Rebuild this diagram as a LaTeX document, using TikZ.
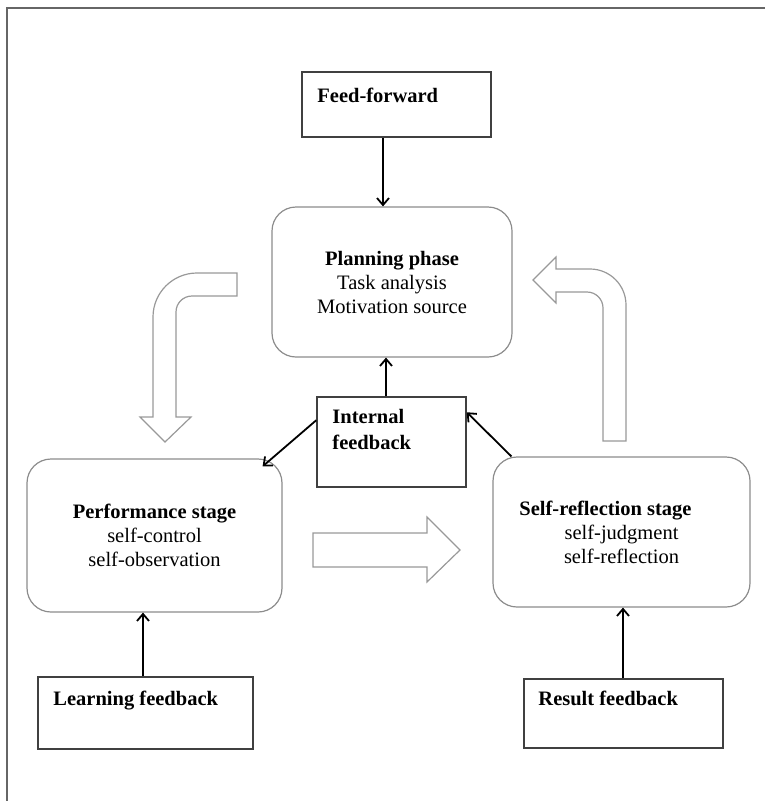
\documentclass[tikz,border=0pt]{standalone}
\usepackage{fontspec}
\setmainfont{Liberation Serif}
\usetikzlibrary{arrows.meta, positioning}
\tikzstyle{phase} = [rectangle, rounded corners=24pt, draw=black!45, line width=1.2pt, align=center, inner sep=0pt]
\tikzstyle{fbbox} = [rectangle, draw=black!75, line width=1.5pt, inner sep=0pt]
\tikzstyle{fbtext} = [anchor=base west, align=left, inner sep=0pt, font=\fontsize{20.5}{26}\selectfont\bfseries]
\tikzstyle{arrow} = [line width=1.8pt, ->, >={Straight Barb[length=7pt,width=12pt]}]
\tikzstyle{hollow} = [draw=black!40, line width=1.2pt, fill=white]

\begin{document}
\begin{tikzpicture}[x=1pt, y=-1pt, font=\fontsize{20.5}{24}\selectfont]
  \useasboundingbox (0,0) rectangle (765,801);
  \draw [black!60, line width=2.5pt] (7,801) -- (7,8) -- (765,8);
  % phases
  \node (plan) [phase, minimum width=240pt, minimum height=150pt] at (392,282) {\textbf{Planning phase}\\Task analysis\\Motivation source};
  \node (perf) [phase, minimum width=255pt, minimum height=153pt] at (154.5,535.5) {\textbf{Performance stage}\\self-control\\self-observation};
  \node (selfref) [phase, minimum width=257pt, minimum height=150pt] at (621.5,532) {\textbf{Self-reflection stage}\hspace*{32pt}\\self-judgment\\self-reflection};
  % feedback boxes
  \node (ff) [fbbox, minimum width=189pt, minimum height=65pt] at (396.5,104.5) {};
  \node (fftext) [fbtext] at ([xshift=16pt, yshift=-31pt]ff.north west) {Feed-forward};
  \node (intfb) [fbbox, minimum width=149pt, minimum height=90pt] at (391.5,442) {};
  \node (intfbtext) [fbtext, anchor=north west] at ([xshift=16pt, yshift=-13pt]intfb.north west) {Internal\\feedback};
  \node (learnfb) [fbbox, minimum width=215pt, minimum height=72pt] at (145.5,713) {};
  \node (learnfbtext) [fbtext] at ([xshift=16pt, yshift=-29pt]learnfb.north west) {Learning feedback};
  \node (resfb) [fbbox, minimum width=199pt, minimum height=69pt] at (623.5,713.5) {};
  \node (resfbtext) [fbtext] at ([xshift=15pt, yshift=-27pt]resfb.north west) {Result feedback};
  % arrows
  \draw [arrow] ([xshift=-13.5pt]ff.south) -- ([xshift=-9pt]plan.north);
  \draw [arrow] ([xshift=-5.5pt]intfb.north) -- ([xshift=-6pt]plan.south);
  \draw [arrow] ([yshift=-24pt]intfb.north west) -- ([xshift=-20pt, yshift=-8pt]perf.north east);
  \draw [arrow] ([xshift=19pt]selfref.north west) -- ([yshift=-16pt]intfb.north east);
  \draw [arrow] ([xshift=-2.5pt]learnfb.north) -- ([xshift=-11.5pt]perf.south);
  \draw [arrow] ([xshift=-0.5pt]resfb.north) -- ([xshift=1.5pt]selfref.south);
  % hollow arrows
  \draw [hollow] (237,273) -- (197,273) arc[start angle=90, end angle=180, radius=44pt] -- (153,417) -- (140,417) -- (165,442) -- (191,417) -- (176,417) -- (176,312) arc[start angle=180, end angle=90, radius=16pt] -- (237,296) -- cycle;
  \draw [hollow] (313,533) -- (427,533) -- (427,517) -- (460,550) -- (427,582) -- (427,567) -- (313,567) -- cycle;
  \draw [hollow] (556,269) -- (590,269) arc[start angle=90, end angle=0, radius=36pt] -- (626,441) -- (603,441) -- (603,308) arc[start angle=0, end angle=90, radius=16pt] -- (556,292) -- (556,303) -- (533,280) -- (556,257) -- cycle;
\end{tikzpicture}
\end{document}
